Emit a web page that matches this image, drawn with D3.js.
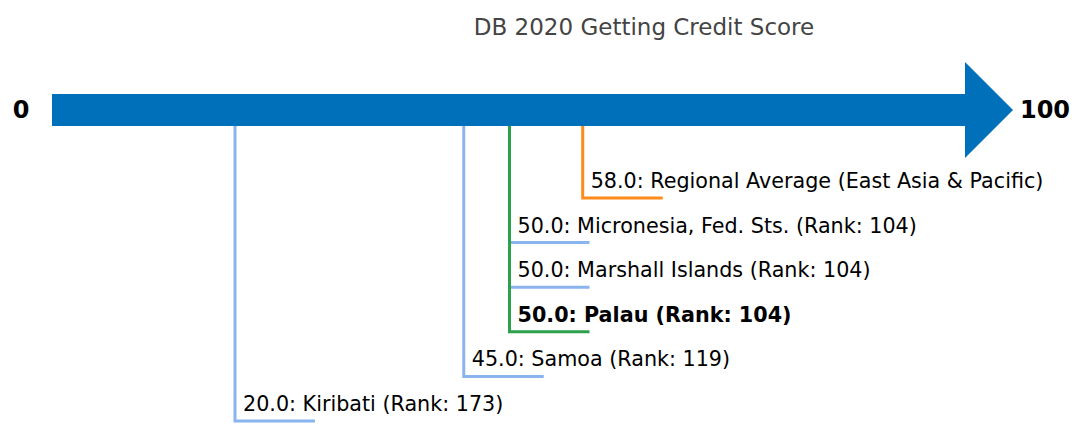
<!DOCTYPE html>
<html><head><meta charset="utf-8">
<script src="https://cdn.jsdelivr.net/npm/d3@7"></script>
<style>body{margin:0;background:#fff}svg{display:block}text{font-family:"DejaVu Sans",sans-serif}</style>
</head><body><svg id="c" width="1072" height="424"></svg>
<script>
const title = "DB 2020 Getting Credit Score";
const economies = ["Regional Average (East Asia & Pacific)", "Micronesia, Fed. Sts.", "Marshall Islands", "Palau", "Samoa", "Kiribati"];
const scores = [58.0, 50.0, 50.0, 50.0, 45.0, 20.0];
const ranks = [null, 104, 104, 104, 119, 173];
const kinds = ["region", "peer", "peer", "focus", "peer", "peer"];
const axisEnds = [0, 100];

const colors = {region: "#ff8c1a", peer: "#8ab4ee", focus: "#2ca04a"};
const svg = d3.select("#c");
const x = d3.scaleLinear().domain(axisEnds).range([52, 967]);
const barTop = 94, barBot = 126, barMid = 110;
const rowY = d3.scaleLinear().domain([0, economies.length - 1]).range([198, 421]);

svg.append("text").attr("x", 644).attr("y", 35).attr("text-anchor", "middle")
  .attr("font-size", 23).attr("fill", "#444").text(title);

// arrow
const x0 = x(axisEnds[0]), x1 = x(axisEnds[1]);
svg.append("path").attr("fill", "#0070ba")
  .attr("d", `M${x0},${barTop}H${x1 - 2}V62L1013,${barMid}L${x1 - 2},158V${barBot}H${x0}Z`);
svg.append("text").attr("x", 21).attr("y", barMid + 8).attr("text-anchor", "middle")
  .attr("font-size", 24).attr("font-weight", "bold").text(axisEnds[0]);
svg.append("text").attr("x", 1045).attr("y", barMid + 8).attr("text-anchor", "middle")
  .attr("font-size", 24).attr("font-weight", "bold").text(axisEnds[1]);

economies.forEach((name, i) => {
  const xv = x(scores[i]);
  const y = rowY(i);
  const col = colors[kinds[i]];
  svg.append("path").attr("fill", "none").attr("stroke", col).attr("stroke-width", 3)
    .attr("d", `M${xv},${barBot}V${y}H${xv + 80}`);
  const label = scores[i].toFixed(1) + ": " + name + (ranks[i] != null ? ` (Rank: ${ranks[i]})` : "");
  svg.append("text").attr("x", xv + 8).attr("y", y - 10).attr("font-size", 20.7)
    .attr("font-weight", kinds[i] === "focus" ? "bold" : "normal").attr("fill", "#000").text(label);
});
</script></body></html>
